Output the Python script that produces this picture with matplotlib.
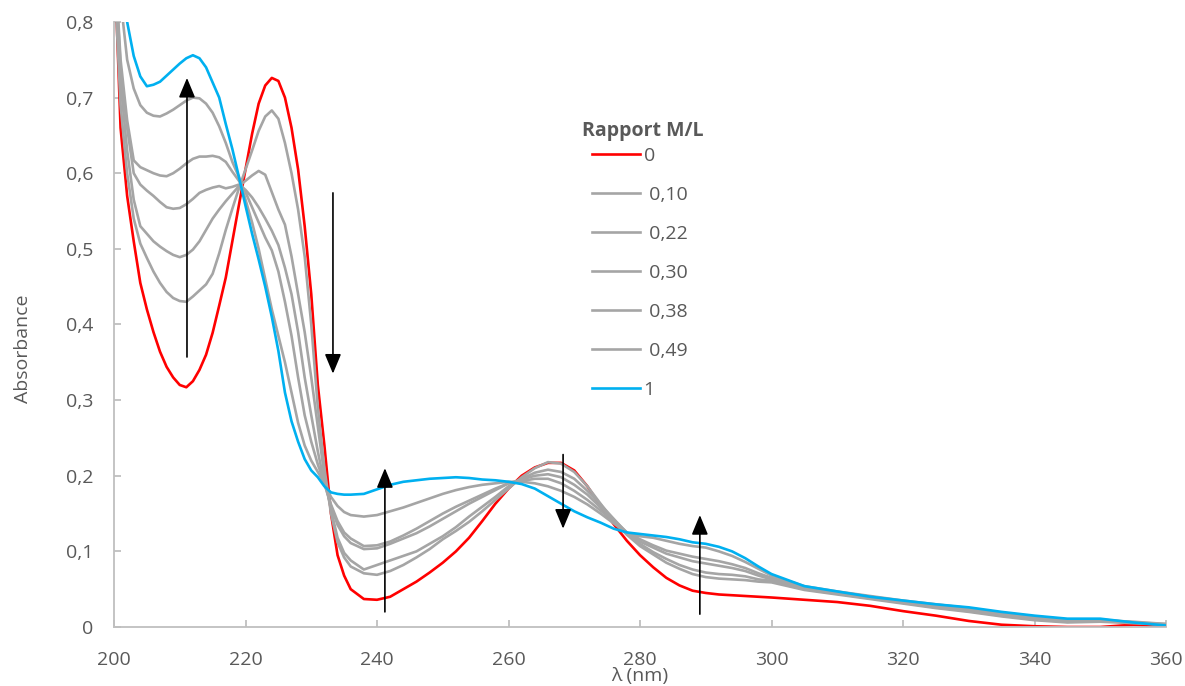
import matplotlib
matplotlib.use("Agg")
import matplotlib.pyplot as plt
from matplotlib.ticker import FuncFormatter, MultipleLocator

plt.rcParams['font.family'] = ['Open Sans', 'DejaVu Sans']

# wavelength grid (nm)
wl = list(range(200, 237)) + list(range(238, 301, 2)) + list(range(305, 361, 5))

# absorbance for each M/L ratio
abs_0 = [
    0.90, 0.66, 0.57, 0.51, 0.455, 0.42, 0.39, 0.364, 0.344, 0.33,
    0.32, 0.317, 0.325, 0.34, 0.36, 0.389, 0.425, 0.462, 0.51, 0.558,
    0.605, 0.652, 0.692, 0.716, 0.726, 0.722, 0.70, 0.66, 0.605, 0.53,
    0.44, 0.32, 0.24, 0.15, 0.095, 0.068, 0.05,
    0.037, 0.036, 0.04, 0.05, 0.06, 0.072, 0.085, 0.1, 0.118, 0.14,
    0.163, 0.183, 0.2, 0.211, 0.217, 0.217, 0.207, 0.186, 0.16, 0.136,
    0.114, 0.095, 0.079, 0.065, 0.055, 0.048, 0.045, 0.043, 0.042, 0.041,
    0.040, 0.039,
    0.036, 0.033, 0.028, 0.021, 0.015, 0.008, 0.003, 0.001, 0.0, 0.0,
    0.003, 0.0,
]
abs_010 = [
    0.87, 0.69, 0.60, 0.54, 0.507, 0.488, 0.47, 0.455, 0.443, 0.435,
    0.431, 0.43, 0.437, 0.445, 0.453, 0.467, 0.494, 0.525, 0.553, 0.58,
    0.605, 0.63, 0.656, 0.675, 0.683, 0.672, 0.64, 0.6, 0.552, 0.49,
    0.40, 0.29, 0.21, 0.15, 0.112, 0.092, 0.08,
    0.071, 0.069, 0.074, 0.082, 0.092, 0.103, 0.116, 0.127, 0.139, 0.153,
    0.168, 0.183, 0.198, 0.21, 0.218, 0.216, 0.205, 0.186, 0.163, 0.14,
    0.122, 0.107, 0.096, 0.085, 0.077, 0.07, 0.066, 0.064, 0.063, 0.062,
    0.06, 0.059,
    0.049, 0.043, 0.037, 0.031, 0.025, 0.02, 0.014, 0.009, 0.006, 0.007,
    0.005, 0.003,
]
abs_022 = [
    0.88, 0.72, 0.63, 0.565, 0.53, 0.52, 0.51, 0.503, 0.497, 0.492,
    0.489, 0.492, 0.499, 0.51, 0.525, 0.54, 0.552, 0.563, 0.573, 0.583,
    0.59, 0.597, 0.603, 0.598, 0.575, 0.552, 0.532, 0.49, 0.44, 0.39,
    0.33, 0.265, 0.2, 0.155, 0.118, 0.098, 0.088,
    0.076, 0.082, 0.088, 0.094, 0.1, 0.11, 0.12, 0.132, 0.146, 0.159,
    0.172, 0.186, 0.196, 0.204, 0.208, 0.205, 0.196, 0.18, 0.162, 0.143,
    0.124, 0.11, 0.099, 0.09, 0.082, 0.076, 0.072, 0.07, 0.069, 0.067,
    0.063, 0.061,
    0.05, 0.044, 0.038, 0.032, 0.026, 0.021, 0.015, 0.01, 0.007, 0.008,
    0.006, 0.003,
]
abs_030 = [
    0.90, 0.74, 0.66, 0.60, 0.585, 0.577, 0.57, 0.562, 0.555, 0.553,
    0.554, 0.559, 0.566, 0.574, 0.578, 0.581, 0.583, 0.58, 0.582, 0.585,
    0.578, 0.568, 0.555, 0.54, 0.524, 0.505, 0.475, 0.44, 0.39, 0.33,
    0.28, 0.232, 0.19, 0.16, 0.135, 0.12, 0.111,
    0.103, 0.104, 0.11, 0.117, 0.124, 0.133, 0.143, 0.153, 0.163, 0.172,
    0.181, 0.19, 0.195, 0.2, 0.202, 0.198, 0.188, 0.175, 0.158, 0.142,
    0.125, 0.113, 0.105, 0.097, 0.092, 0.087, 0.084, 0.081, 0.078, 0.074,
    0.068, 0.063,
    0.051, 0.045, 0.039, 0.033, 0.027, 0.022, 0.016, 0.011, 0.008, 0.009,
    0.007, 0.004,
]
abs_038 = [
    0.90, 0.75, 0.67, 0.617, 0.608, 0.604, 0.60, 0.597, 0.596, 0.60,
    0.606, 0.613, 0.619, 0.622, 0.622, 0.623, 0.621, 0.615, 0.602, 0.59,
    0.575, 0.555, 0.535, 0.515, 0.498, 0.47, 0.43, 0.385, 0.33, 0.28,
    0.245, 0.215, 0.19, 0.162, 0.14, 0.125, 0.117,
    0.107, 0.108, 0.113, 0.121, 0.13, 0.14, 0.15, 0.159, 0.167, 0.175,
    0.183, 0.19, 0.193, 0.196, 0.196, 0.19, 0.18, 0.168, 0.154, 0.14,
    0.125, 0.116, 0.108, 0.101, 0.097, 0.093, 0.09, 0.087, 0.083, 0.078,
    0.071, 0.065,
    0.052, 0.046, 0.04, 0.034, 0.028, 0.023, 0.017, 0.012, 0.009, 0.009,
    0.006, 0.004,
]
abs_049 = [
    0.95, 0.83, 0.75, 0.712, 0.69, 0.68, 0.676, 0.675, 0.679, 0.684,
    0.69, 0.696, 0.70, 0.699, 0.692, 0.68, 0.662, 0.64, 0.615, 0.595,
    0.565, 0.535, 0.50, 0.46, 0.42, 0.385, 0.35, 0.31, 0.27, 0.24,
    0.22, 0.205, 0.19, 0.172, 0.16, 0.152, 0.148,
    0.146, 0.148, 0.153, 0.158, 0.164, 0.17, 0.176, 0.181, 0.185, 0.188,
    0.19, 0.192, 0.192, 0.19, 0.186, 0.18, 0.172, 0.162, 0.15, 0.137,
    0.124, 0.12, 0.118, 0.114, 0.11, 0.107, 0.105, 0.10, 0.094, 0.086,
    0.077, 0.068,
    0.054, 0.047, 0.041, 0.035, 0.03, 0.025, 0.019, 0.014, 0.01, 0.01,
    0.006, 0.003,
]
abs_1 = [
    0.97, 0.88, 0.80, 0.755, 0.728, 0.715, 0.717, 0.721, 0.729, 0.737,
    0.745, 0.752, 0.756, 0.752, 0.74, 0.72, 0.70, 0.665, 0.632, 0.595,
    0.557, 0.52, 0.486, 0.45, 0.41, 0.365, 0.31, 0.272, 0.245, 0.222,
    0.207, 0.198, 0.186, 0.178, 0.176, 0.175, 0.175,
    0.176, 0.182, 0.188, 0.192, 0.194, 0.196, 0.197, 0.198, 0.197, 0.195,
    0.194, 0.192, 0.189, 0.183, 0.173, 0.163, 0.153, 0.145, 0.138, 0.13,
    0.125, 0.123, 0.121, 0.119, 0.116, 0.112, 0.11, 0.106, 0.10, 0.091,
    0.08, 0.07,
    0.054, 0.047, 0.04, 0.035, 0.03, 0.026, 0.02, 0.015, 0.011, 0.011,
    0.006, 0.002,
]

series = [abs_0, abs_010, abs_022, abs_030, abs_038, abs_049, abs_1]
labels = ['0', ' 0,10', ' 0,22', ' 0,30', ' 0,38', ' 0,49', '1']
colors = ['#FF0000'] + ['#A5A5A5'] * 5 + ['#00B0F0']

# arrows: (x, y_tail, y_head)
arrows = [
    (211.1, 0.357, 0.726),
    (233.3, 0.574, 0.335),
    (241.2, 0.020, 0.210),
    (268.3, 0.228, 0.130),
    (289.1, 0.017, 0.148),
]

text_col = '#595959'
axis_col = '#BFBFBF'

fig = plt.figure(figsize=(11.85, 6.86), dpi=100)
ax = fig.add_axes([0.0962, 0.086, 0.8878, 0.882])

for y, lab, c in zip(series, labels, colors):
    ax.plot(wl, y, color=c, lw=1.9, label=lab, solid_joinstyle='round')

for x, y0, y1 in arrows:
    ax.annotate('', xy=(x, y1), xytext=(x, y0),
                arrowprops=dict(arrowstyle='-|>,head_length=0.6,head_width=0.25',
                                color='black', lw=1.2, mutation_scale=20,
                                shrinkA=0, shrinkB=0))

ax.set_xlim(200, 360)
ax.set_ylim(0, 0.8)
ax.xaxis.set_major_locator(MultipleLocator(20))
ax.yaxis.set_major_locator(MultipleLocator(0.1))
ax.yaxis.set_major_formatter(FuncFormatter(
    lambda v, p: '0' if abs(v) < 1e-9 else f'{v:.1f}'.replace('.', ',')))

for s in ['top', 'right']:
    ax.spines[s].set_visible(False)
for s in ['left', 'bottom']:
    ax.spines[s].set_color(axis_col)
    ax.spines[s].set_linewidth(1.3)

ax.tick_params(axis='both', direction='in', length=5, width=1.3, color=axis_col,
               labelcolor=text_col, labelsize=14)
ax.tick_params(axis='x', pad=17)
ax.tick_params(axis='y', pad=15)

ax.set_xlabel('λ (nm)', fontsize=14, color=text_col)
ax.set_ylabel('Absorbance', fontsize=14, color=text_col)
ax.xaxis.set_label_coords(0.5, -0.066)
ax.yaxis.set_label_coords(-0.078, 0.46)

# legend title drawn as its own text, entries below it
fig.text(582 / 1185, 1 - 131 / 686, 'Rapport M/L', fontsize=14,
         weight='bold', color=text_col, va='center', ha='left')
leg = ax.legend(loc='upper left', bbox_to_anchor=(592 / 1185, 1 - 147 / 686),
                bbox_transform=fig.transFigure, frameon=False,
                fontsize=14, labelspacing=1.08, handlelength=2.45,
                handletextpad=0.2, borderpad=0.0, borderaxespad=0.0)
for t in leg.get_texts():
    t.set_color(text_col)

fig.savefig('out.png', dpi=100)
